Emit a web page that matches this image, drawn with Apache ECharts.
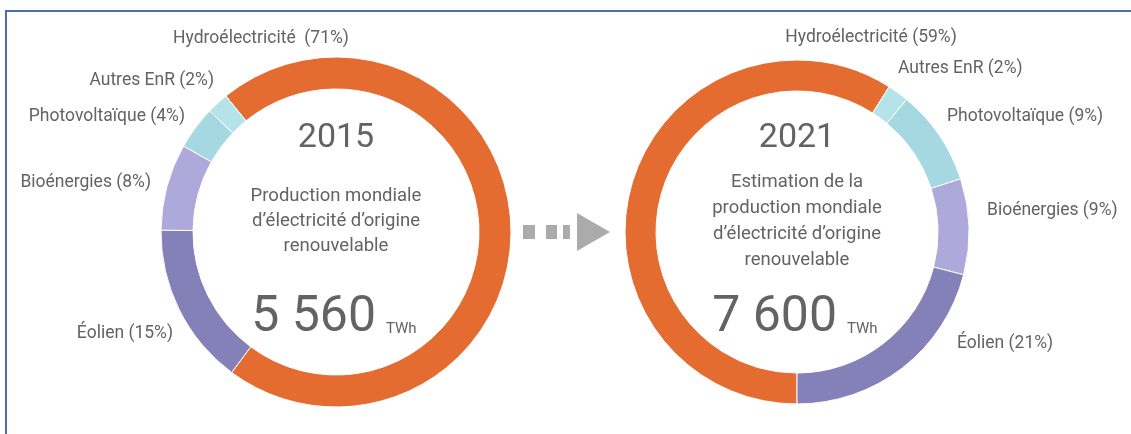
<!DOCTYPE html>
<html>
<head>
<meta charset="utf-8">
<script src="https://cdn.jsdelivr.net/npm/echarts@6/dist/echarts.min.js"></script>
<style>
html,body{margin:0;padding:0;background:#fff;}
#c{width:1131px;height:434px;}
</style>
</head>
<body>
<div id="c"></div>
<script>
// ---- Data ----
const names2015 = ['Hydroélectricité', 'Éolien', 'Bioénergies', 'Photovoltaïque', 'Autres EnR'];
const values2015 = [71, 15, 8, 4, 2];
const names2021 = ['Hydroélectricité', 'Autres EnR', 'Photovoltaïque', 'Bioénergies', 'Éolien'];
const values2021 = [59, 2, 9, 9, 21];
const years = ['2015', '2021'];
const totals = ['5 560', '7 600'];
const unit = 'TWh';
const captions = [
  ['Production mondiale', 'd’électricité d’origine', 'renouvelable'],
  ['Estimation de la', 'production mondiale', 'd’électricité d’origine', 'renouvelable']
];

// ---- Styles / layout ----
const colorMap = {
  'Hydroélectricité': '#E46C30',
  'Éolien': '#8480B8',
  'Bioénergies': '#ADA9DA',
  'Photovoltaïque': '#A6D8E2',
  'Autres EnR': '#B4E4EA'
};
const textColor = '#636363';
const font = 'Roboto, "Noto Sans", sans-serif';
// label anchors [x, y, align]
const labelPos2015 = [[261, 39, 'center'], [173, 334, 'right'], [151, 183, 'right'], [185, 117, 'right'], [214, 81, 'right']];
const labelPos2021 = [[871, 38, 'center'], [898, 69, 'left'], [947, 117, 'left'], [987, 211, 'left'], [957, 344, 'left']];
const labelPos = [labelPos2015, labelPos2021];

function mkData(names, vals) {
  return names.map((n, i) => ({ name: n, value: vals[i], itemStyle: { color: colorMap[n] } }));
}

const chart = echarts.init(document.getElementById('c'));

function labelFmt(p) {
  const sep = (p.seriesIndex === 0 && p.dataIndex === 0) ? '  ' : ' ';
  return p.name + sep + '(' + p.value + '%)';
}

function mkSeries(idx, data, center, radius, startAngle) {
  return {
    type: 'pie',
    center: center,
    radius: radius,
    startAngle: startAngle,
    clockwise: true,
    avoidLabelOverlap: false,
    silent: true,
    data: data,
    itemStyle: { borderColor: '#ffffff', borderWidth: 1 },
    label: {
      show: true,
      position: 'outside',
      formatter: labelFmt,
      color: textColor,
      fontFamily: font,
      fontSize: 17.5
    },
    labelLine: { show: false },
    labelLayout: function (params) {
      const p = labelPos[idx][params.dataIndex];
      return { x: p[0], y: p[1], align: p[2], verticalAlign: 'middle', hideOverlap: false };
    }
  };
}

const graphics = [
  // frame
  { type: 'rect', shape: { x: 6, y: 11, width: 1200, height: 600 }, style: { fill: 'none', stroke: '#4A6FAB', lineWidth: 2 }, silent: true },
  // arrow
  { type: 'rect', shape: { x: 523, y: 225, width: 12, height: 14 }, style: { fill: '#ABABAB' } },
  { type: 'rect', shape: { x: 546, y: 225, width: 11, height: 14 }, style: { fill: '#ABABAB' } },
  { type: 'rect', shape: { x: 563, y: 225, width: 7, height: 14 }, style: { fill: '#ABABAB' } },
  { type: 'polygon', shape: { points: [[577, 213], [610, 232], [577, 251]] }, style: { fill: '#ABABAB' } }
];

const centersX = [336, 797];
const yearY = [138, 138];
const capStartY = [196, 182];
const capLH = [25, 26];
const totalY = [318, 318];

for (let k = 0; k < 2; k++) {
  const cx = centersX[k];
  graphics.push({ type: 'text', x: cx, y: yearY[k], style: { text: years[k], font: '34px ' + font, fill: textColor, textAlign: 'center', textVerticalAlign: 'middle' } });
  captions[k].forEach((line, i) => {
    graphics.push({ type: 'text', x: cx, y: capStartY[k] + i * capLH[k], style: { text: line, font: '18.5px ' + font, fill: textColor, textAlign: 'center', textVerticalAlign: 'middle' } });
  });
  graphics.push({ type: 'text', x: cx + 40, y: totalY[k], style: { text: totals[k], font: '50px ' + font, fill: textColor, textAlign: 'right', textVerticalAlign: 'middle' } });
  graphics.push({ type: 'text', x: cx + 50, y: totalY[k] + 11, style: { text: unit, font: '15px ' + font, fill: textColor, textAlign: 'left', textVerticalAlign: 'middle' } });
}

chart.setOption({
  animation: false,
  backgroundColor: '#ffffff',
  series: [
    mkSeries(0, mkData(names2015, values2015), [336, 232], [143, 175], 129),
    mkSeries(1, mkData(names2021, values2021), [797, 232], [141, 172], 270)
  ],
  graphic: graphics
});
</script>
</body>
</html>
